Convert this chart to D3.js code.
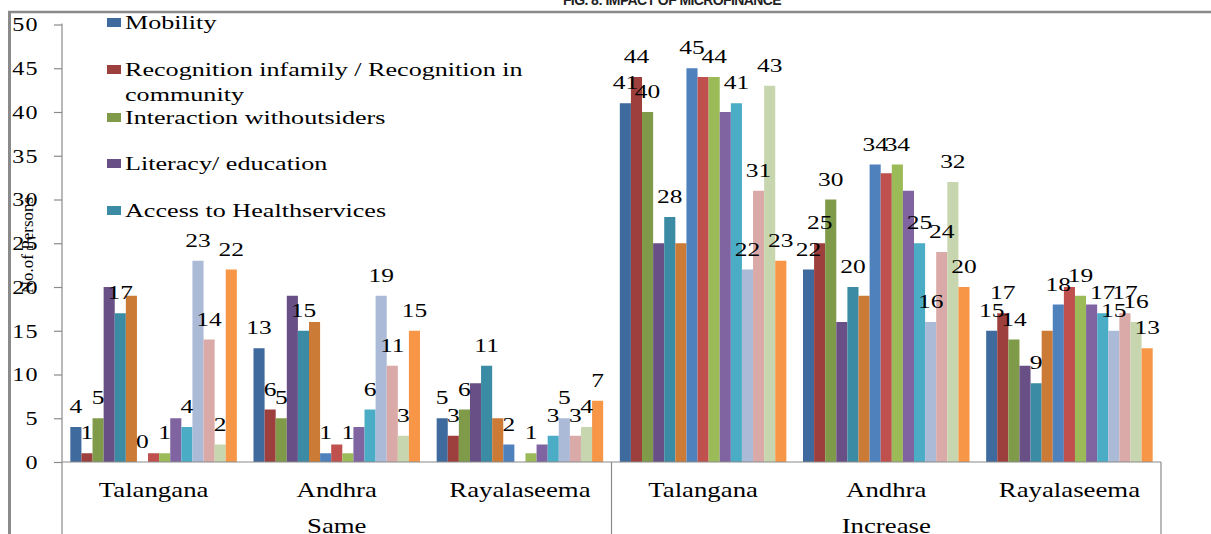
<!DOCTYPE html>
<html>
<head>
<meta charset="utf-8">
<script src="https://cdn.jsdelivr.net/npm/d3@7"></script>
<style>
  html, body { margin: 0; padding: 0; background: #fff; }
  svg { display: block; }
</style>
</head>
<body>
<svg id="chart" width="1211" height="534"></svg>
<script>
// ---- data ----
const regions = ["Talangana", "Andhra", "Rayalaseema"];
const periods = ["Same", "Increase"];
const yTicks = [0, 5, 10, 15, 20, 25, 30, 35, 40, 45, 50];

// values per category: Same (Talangana, Andhra, Rayalaseema), Increase (Talangana, Andhra, Rayalaseema)
const mobility    = [4, 13, 5, 41, 22, 15];
const recognition = [1, 6, 3, 44, 25, 17];
const interaction = [5, 5, 6, 40, 30, 14];
const literacy    = [20, 19, 9, 25, 16, 11];
const health      = [17, 15, 11, 28, 20, 9];
const series6  = [19, 16, 5, 25, 19, 15];
const series7  = [0, 1, 2, 45, 34, 18];
const series8  = [1, 2, 0, 44, 33, 20];
const series9  = [1, 1, 1, 44, 34, 19];
const series10 = [5, 4, 2, 40, 31, 18];
const series11 = [4, 6, 3, 41, 25, 17];
const series12 = [23, 19, 5, 22, 16, 15];
const series13 = [14, 11, 3, 31, 24, 17];
const series14 = [2, 3, 4, 43, 32, 16];
const series15 = [22, 15, 7, 23, 20, 13];

const legendNames = [
  ["Mobility"],
  ["Recognition infamily / Recognition in", "community"],
  ["Interaction withoutsiders"],
  ["Literacy/ education"],
  ["Access to Healthservices"]
];
// series that carry value labels
const labelledSeries = [0, 1, 2, 4, 6, 8, 10, 11, 12, 13, 14];

// ---- styling ----
const seriesValues = [mobility, recognition, interaction, literacy, health,
  series6, series7, series8, series9, series10, series11, series12, series13, series14, series15];
const colors = ["#3f6a9e", "#9d3f3c", "#7f9a48", "#684f85", "#3a8ba3", "#cc7b37",
  "#4f81bd", "#c0504d", "#9bbb59", "#8064a2", "#4bacc6", "#aabad7", "#d9aaa8", "#c7d6ae", "#f79646"];
const STRETCH = 1.34;      // wide serif lettering
const SERIF = "'Liberation Serif', 'Times New Roman', serif";
const axisGrey = "#8a8a8a";

const svg = d3.select("#chart");

// category keys: period|region
const cats = [];
periods.forEach(p => regions.forEach(r => cats.push(p + "|" + r)));

const plot = { left: 62, right: 1161, top: 24.5, bottom: 462 };

const x0 = d3.scaleBand().domain(cats).range([plot.left, plot.right]).padding(0);
const x1 = d3.scaleBand().domain(d3.range(seriesValues.length))
  .range([0, x0.bandwidth()]).paddingInner(0).paddingOuter(0.75);
const y = d3.scaleLinear().domain([0, 50]).range([plot.bottom, plot.top]);

function serif(sel, size) {
  return sel.attr("font-family", SERIF).attr("font-size", size).attr("fill", "#000");
}

// title strip at the very top (partly clipped by the page edge)
svg.append("text")
  .attr("x", 672).attr("y", 5)
  .attr("text-anchor", "middle")
  .attr("font-family", "'Liberation Sans', Arial, sans-serif")
  .attr("font-weight", "bold").attr("font-size", 14)
  .attr("letter-spacing", "-0.6")
  .attr("fill", "#222")
  .text("FIG. 8: IMPACT OF MICROFINANCE");

// outer frame
svg.append("line").attr("x1", 8).attr("x2", 1211).attr("y1", 12).attr("y2", 12)
  .attr("stroke", axisGrey).attr("stroke-width", 2.5);
svg.append("line").attr("x1", 9.5).attr("x2", 9.5).attr("y1", 11).attr("y2", 534)
  .attr("stroke", axisGrey).attr("stroke-width", 3);

// bars
const groups = svg.append("g").selectAll("g")
  .data(cats).join("g")
  .attr("transform", d => `translate(${x0(d)},0)`);

groups.selectAll("rect")
  .data((c, ci) => seriesValues.map((vals, si) => ({ si, v: vals[ci] })))
  .join("rect")
  .attr("x", d => x1(d.si))
  .attr("width", x1.bandwidth())
  .attr("y", d => y(d.v))
  .attr("height", d => y(0) - y(d.v))
  .attr("fill", d => colors[d.si]);

// value labels
groups.selectAll("text.val")
  .data((c, ci) => labelledSeries.map(si => ({ si, v: seriesValues[si][ci] })))
  .join("text")
  .attr("class", "val")
  .attr("text-anchor", "middle")
  .call(serif, 19)
  .attr("transform", d => `translate(${x1(d.si) + x1.bandwidth() / 2},${y(d.v) - 14}) scale(${STRETCH},1)`)
  .text(d => d.v);

// y axis
const yAxis = svg.append("g")
  .attr("transform", `translate(${plot.left},0)`)
  .call(d3.axisLeft(y).tickValues(yTicks).tickSize(8).tickPadding(0));
yAxis.select(".domain").remove();
yAxis.selectAll(".tick line").attr("stroke", axisGrey).attr("stroke-width", 1.2);
yAxis.selectAll(".tick text")
  .attr("x", null).attr("dy", "0.35em")
  .attr("text-anchor", "end")
  .attr("transform", `translate(-23,0) scale(${STRETCH},1)`)
  .call(serif, 18)
  .attr("letter-spacing", "1");
svg.append("line").attr("x1", plot.left).attr("x2", plot.left)
  .attr("y1", plot.top - 1).attr("y2", 534)
  .attr("stroke", axisGrey).attr("stroke-width", 1.2);

// x axis baseline and category dividers
svg.append("line").attr("x1", plot.left).attr("x2", plot.right)
  .attr("y1", plot.bottom).attr("y2", plot.bottom)
  .attr("stroke", axisGrey).attr("stroke-width", 1.2);
[x0(cats[3]), plot.right].forEach(xx => {
  svg.append("line").attr("x1", xx).attr("x2", xx)
    .attr("y1", plot.bottom).attr("y2", 534)
    .attr("stroke", axisGrey).attr("stroke-width", 1.2);
});

// region labels
svg.append("g").selectAll("text")
  .data(cats).join("text")
  .attr("text-anchor", "middle")
  .call(serif, 20)
  .attr("transform", d => `translate(${x0(d) + x0.bandwidth() / 2},497) scale(${STRETCH},1)`)
  .text(d => d.split("|")[1]);

// period labels
svg.append("g").selectAll("text")
  .data(periods).join("text")
  .attr("text-anchor", "middle")
  .call(serif, 20)
  .attr("transform", (p, i) => {
    const first = x0(cats[i * 3]);
    const last = x0(cats[i * 3 + 2]) + x0.bandwidth();
    return `translate(${(first + last) / 2},533) scale(${STRETCH},1)`;
  })
  .text(d => d);

// y axis title
svg.append("text")
  .attr("text-anchor", "middle")
  .call(serif, 17)
  .attr("transform", "translate(33,245) rotate(-90)")
  .text("No.of Persons");

// legend
const legend = svg.append("g");
const legendY = [23, 70, 118, 164, 211];
legendNames.forEach((lines, i) => {
  legend.append("rect")
    .attr("x", 107).attr("y", legendY[i] - 5)
    .attr("width", 14).attr("height", 9)
    .attr("fill", colors[i]);
  lines.forEach((ln, j) => {
    legend.append("text")
      .call(serif, 19.5)
      .attr("transform", `translate(125,${legendY[i] + 6 + j * 25}) scale(${STRETCH},1)`)
      .text(ln);
  });
});
</script>
</body>
</html>
